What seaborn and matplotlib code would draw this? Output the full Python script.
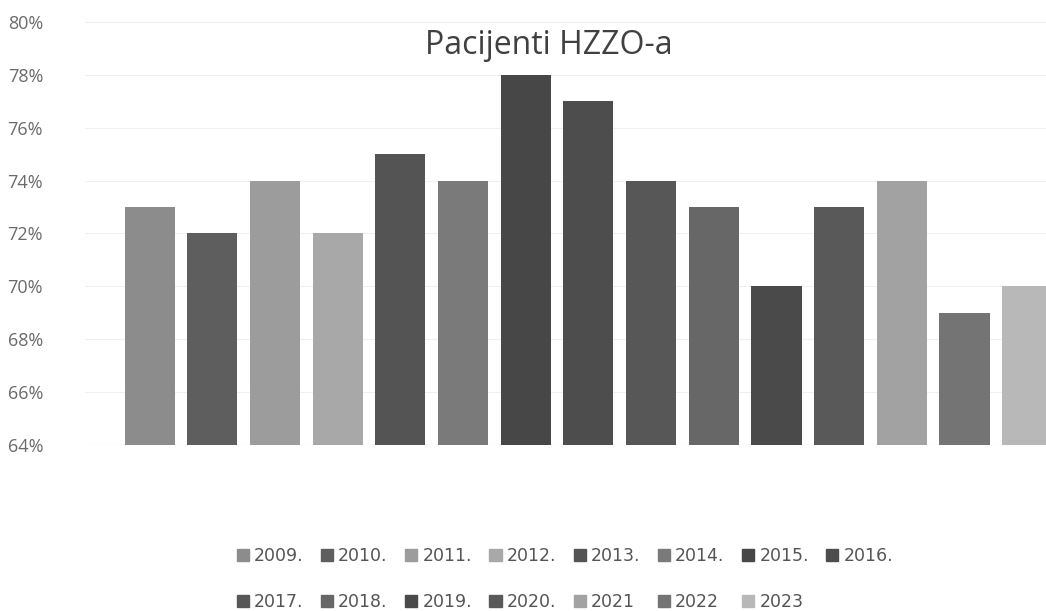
import matplotlib
matplotlib.use("Agg")
import matplotlib.pyplot as plt
import matplotlib.ticker as mtick
import seaborn as sns
import pandas as pd

# Data
years = ["2009.", "2010.", "2011.", "2012.", "2013.", "2014.", "2015.", "2016.",
         "2017.", "2018.", "2019.", "2020.", "2021", "2022", "2023"]
shares = [73, 72, 74, 72, 75, 74, 78, 77, 74, 73, 70, 73, 74, 69, 70]
grays = ["#8c8c8c", "#5e5e5e", "#9c9c9c", "#a8a8a8", "#545454", "#7a7a7a", "#474747",
         "#4d4d4d", "#575757", "#676767", "#4a4a4a", "#595959", "#a2a2a2", "#747474", "#b8b8b8"]
y_ticks = [64, 66, 68, 70, 72, 74, 76, 78, 80]

df = pd.DataFrame({"godina": years, "udio": shares})

sns.set_theme(style="white")
plt.rcParams["font.family"] = ["Open Sans", "DejaVu Sans"]

fig = plt.figure(figsize=(10.46, 6.11), dpi=100)
ax = fig.add_axes([0.081, 0.272, 0.919, 0.692])

sns.barplot(data=df, x="godina", y="udio", hue="godina", palette=grays,
            dodge=False, width=0.8, ax=ax, legend=False)

# bars start at the axis floor (64%)
for bar in ax.patches:
    h = bar.get_height()
    bar.set_y(64)
    bar.set_height(h - 64)
    bar.set_edgecolor("none")

ax.set_ylim(64, 80)
ax.set_xlim(-1.035, 14.3)
ax.set_yticks(y_ticks)
ax.yaxis.set_major_formatter(mtick.FormatStrFormatter("%d%%"))
ax.set_xticks([])
ax.set_xlabel("")
ax.set_ylabel("")
ax.tick_params(axis="y", length=0, pad=30, labelsize=13, labelcolor="#6a6a6a")
ax.grid(axis="y", color="#f0f0f0", linewidth=0.8)
ax.set_axisbelow(True)
for s in ax.spines.values():
    s.set_visible(False)
ax.axhline(64, color="#e4e4e4", linewidth=0.8, zorder=0)

fig.text(0.525, 0.925, "Pacijenti HZZO-a", ha="center", va="center",
         fontsize=23, color="#404040")

# legend filled row by row (matplotlib fills by column)
order = [0, 8, 1, 9, 2, 10, 3, 11, 4, 12, 5, 13, 6, 14, 7]
handles = [plt.Rectangle((0, 0), 1, 1, color=grays[i]) for i in order]
labels = [years[i] for i in order]
fig.legend(handles, labels, loc="upper center", bbox_to_anchor=(0.54, 0.13),
           ncol=8, frameon=False, labelcolor="#555555",
           handlelength=0.7, handleheight=0.7, handletextpad=0.3,
           columnspacing=1.0, labelspacing=1.6,
           prop={"family": ["Liberation Sans Narrow", "DejaVu Sans"], "size": 12.5})

fig.savefig("out.png", dpi=100)
